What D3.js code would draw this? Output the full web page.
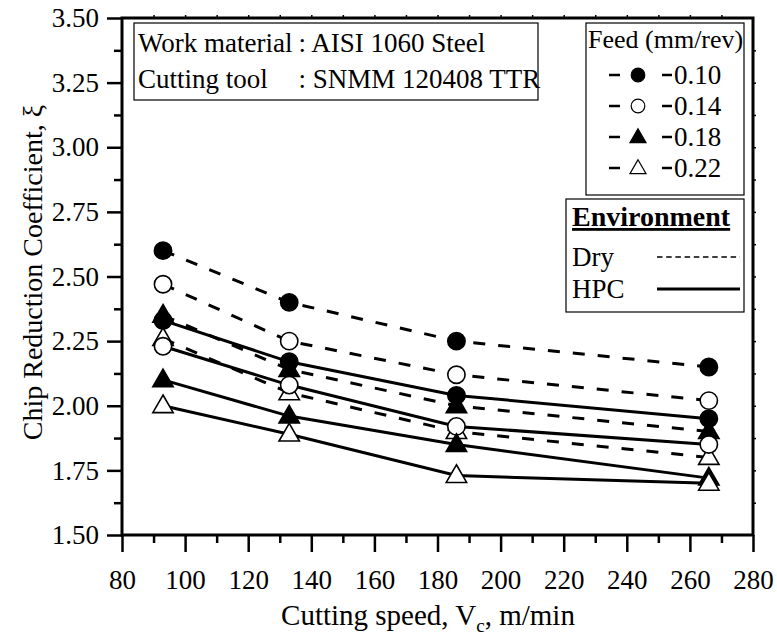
<!DOCTYPE html>
<html><head><meta charset="utf-8">
<script src="https://cdn.jsdelivr.net/npm/d3@7"></script>
<style>
html,body{margin:0;padding:0;background:#fff;}
svg text{font-family:"Liberation Serif",Tinos,"Times New Roman",Times,"DejaVu Serif",serif !important;fill:#000;}
</style></head>
<body><svg id="c" width="777" height="636"></svg>
<script>
// ---- data ----
const speeds = [93, 133, 186, 266];
const feeds = ["0.10", "0.14", "0.18", "0.22"];
const dry_010 = [2.60, 2.40, 2.25, 2.15];
const dry_014 = [2.47, 2.25, 2.12, 2.02];
const dry_018 = [2.35, 2.14, 2.00, 1.90];
const dry_022 = [2.26, 2.05, 1.90, 1.80];
const hpc_010 = [2.33, 2.17, 2.04, 1.95];
const hpc_014 = [2.23, 2.08, 1.92, 1.85];
const hpc_018 = [2.10, 1.96, 1.85, 1.72];
const hpc_022 = [2.00, 1.89, 1.73, 1.70];
const xTicks = [80, 100, 120, 140, 160, 180, 200, 220, 240, 260, 280];
const yTicks = [1.50, 1.75, 2.00, 2.25, 2.50, 2.75, 3.00, 3.25, 3.50];

const FONT = '"Liberation Serif", Tinos, "Times New Roman", Times, "DejaVu Serif", serif';
const W = 777, H = 636;
const m = {l: 122, r: 24, t: 18, b: 101};
const svg = d3.select("#c");
const x = d3.scaleLinear().domain([80, 280]).range([m.l, W - m.r]);
const y = d3.scaleLinear().domain([1.5, 3.5]).range([H - m.b, m.t]);

const markers = {
  "0.10": {shape: "circle", fill: "#000"},
  "0.14": {shape: "circle", fill: "#fff"},
  "0.18": {shape: "triangle", fill: "#000"},
  "0.22": {shape: "triangle", fill: "#fff"}
};
const series = [
  {feed: "0.10", env: "HPC", v: hpc_010},
  {feed: "0.10", env: "Dry", v: dry_010},
  {feed: "0.14", env: "Dry", v: dry_014},
  {feed: "0.18", env: "Dry", v: dry_018},
  {feed: "0.22", env: "Dry", v: dry_022},
  {feed: "0.14", env: "HPC", v: hpc_014},
  {feed: "0.18", env: "HPC", v: hpc_018},
  {feed: "0.22", env: "HPC", v: hpc_022}
];

function symPath(shape, scale) {
  const t = shape === "circle" ? d3.symbolCircle : d3.symbolTriangle;
  const size = shape === "circle" ? 235 * scale : 180 * scale;
  return d3.symbol().type(t).size(size)();
}

// ---- axes ----
const axisG = svg.append("g");
const majorY = d3.axisLeft(y).tickValues(yTicks).tickFormat(d3.format(".2f")).tickSize(15).tickPadding(8);
const minorY = d3.axisLeft(y).tickValues(d3.range(1.625, 3.5, 0.25)).tickFormat("").tickSize(8);
const majorX = d3.axisBottom(x).tickValues(xTicks).tickFormat(d3.format("d")).tickSize(17).tickPadding(18);
const minorX = d3.axisBottom(x).tickValues(d3.range(90, 280, 20)).tickFormat("").tickSize(8);
const topX = d3.axisTop(x).tickValues(d3.range(90, 280, 10)).tickFormat("").tickSize(3);
const rightY = d3.axisRight(y).tickValues(d3.range(1.625, 3.5, 0.125)).tickFormat("").tickSize(3);

function styleAxis(g) {
  g.attr("font-family", FONT);
  g.select(".domain").remove();
  g.selectAll(".tick line").attr("stroke", "#000").attr("stroke-width", 2.5);
  g.selectAll(".tick text").attr("font-size", 27).attr("font-family", FONT);
}
axisG.append("g").attr("transform", `translate(${m.l},0)`).call(majorY).call(styleAxis);
axisG.append("g").attr("transform", `translate(${m.l},0)`).call(minorY).call(styleAxis);
axisG.append("g").attr("transform", `translate(0,${H - m.b})`).call(majorX).call(styleAxis);
axisG.append("g").attr("transform", `translate(0,${H - m.b})`).call(minorX).call(styleAxis);
axisG.append("g").attr("transform", `translate(0,${m.t})`).call(topX).call(g => { styleAxis(g); g.selectAll(".tick line").attr("stroke-width", 1.5); });
axisG.append("g").attr("transform", `translate(${W - m.r},0)`).call(rightY).call(g => { styleAxis(g); g.selectAll(".tick line").attr("stroke-width", 1.5); });

svg.append("rect").attr("x", m.l).attr("y", m.t)
  .attr("width", W - m.l - m.r).attr("height", H - m.t - m.b)
  .attr("fill", "none").attr("stroke", "#000").attr("stroke-width", 3);

// ---- lines ----
const line = d3.line().x((d, i) => x(speeds[i])).y(d => y(d));
const linesG = svg.append("g");
series.forEach(s => {
  linesG.append("path").attr("d", line(s.v)).attr("fill", "none")
    .attr("stroke", "#000").attr("stroke-width", 3)
    .attr("stroke-dasharray", s.env === "Dry" ? "12,13" : null);
});
// ---- markers ----
const markG = svg.append("g");
series.forEach(s => {
  const mk = markers[s.feed];
  s.v.forEach((v, i) => {
    markG.append("path").attr("d", symPath(mk.shape, 1))
      .attr("transform", `translate(${x(speeds[i])},${y(v) + (mk.shape === "triangle" ? 1 : 0)})`)
      .attr("fill", mk.fill).attr("stroke", "#000").attr("stroke-width", 1.6);
  });
});

function txt(g, xx, yy, size, s) {
  return g.append("text").attr("x", xx).attr("y", yy).attr("font-size", size)
    .attr("font-family", FONT).text(s);
}

// ---- axis titles ----
const xt = svg.append("text").attr("x", 428).attr("y", 625)
  .attr("text-anchor", "middle").attr("font-size", 29).attr("font-family", FONT);
xt.append("tspan").text("Cutting speed, V");
xt.append("tspan").attr("font-size", 19).attr("dy", 7).text("c");
xt.append("tspan").attr("dy", -7).text(", m/min");

svg.append("text").attr("transform", `translate(42,${(m.t + H - m.b) / 2 - 4}) rotate(-90)`)
  .attr("text-anchor", "middle").attr("font-size", 28).attr("font-family", FONT)
  .text("Chip Reduction Coefficient, \u03BE");

// ---- info box ----
const info = svg.append("g");
info.append("rect").attr("x", 134).attr("y", 23).attr("width", 404).attr("height", 77)
  .attr("fill", "#fff").attr("stroke", "#000").attr("stroke-width", 1.2);
const l1 = txt(info, 138, 52, 27, "Work material");
const cx = 138 + l1.node().getComputedTextLength() + 6;
txt(info, cx, 52, 27, ": AISI 1060 Steel");
txt(info, 138, 88, 27, "Cutting tool");
txt(info, cx, 88, 27, ": SNMM 120408 TTR");

// ---- feed legend ----
const lg = svg.append("g");
lg.append("rect").attr("x", 586).attr("y", 23).attr("width", 158).attr("height", 172)
  .attr("fill", "#fff").attr("stroke", "#000").attr("stroke-width", 1.2);
txt(lg, 588, 48, 26, "Feed (mm/rev)");
feeds.forEach((f, i) => {
  const cy = 75 + i * 31;
  const mk = markers[f];
  lg.append("line").attr("x1", 609).attr("x2", 620).attr("y1", cy).attr("y2", cy).attr("stroke", "#000").attr("stroke-width", 2.5);
  lg.append("line").attr("x1", 662).attr("x2", 672).attr("y1", cy).attr("y2", cy).attr("stroke", "#000").attr("stroke-width", 2.5);
  lg.append("path").attr("d", symPath(mk.shape, 0.62))
    .attr("transform", `translate(638,${cy + (mk.shape === "triangle" ? 1 : 0)})`)
    .attr("fill", mk.fill).attr("stroke", "#000").attr("stroke-width", 1.2);
  txt(lg, 674, cy + 9, 27, f);
});

// ---- environment legend ----
const eg = svg.append("g");
eg.append("rect").attr("x", 566).attr("y", 199).attr("width", 178).attr("height", 113)
  .attr("fill", "#fff").attr("stroke", "#000").attr("stroke-width", 1.2);
txt(eg, 572, 226, 28, "Environment").attr("font-weight", "bold").attr("text-decoration", "underline");
const envs = ["Dry", "HPC"];
envs.forEach((e, i) => {
  const base = 266 + i * 32;
  txt(eg, 572, base, 27, e);
  const ly = base - 9;
  eg.append("line").attr("x1", 657).attr("x2", 740).attr("y1", ly).attr("y2", ly)
    .attr("stroke", "#000").attr("stroke-width", e === "Dry" ? 1.6 : 2.8)
    .attr("stroke-dasharray", e === "Dry" ? "5.5,3.7" : null);
});
</script></body></html>
